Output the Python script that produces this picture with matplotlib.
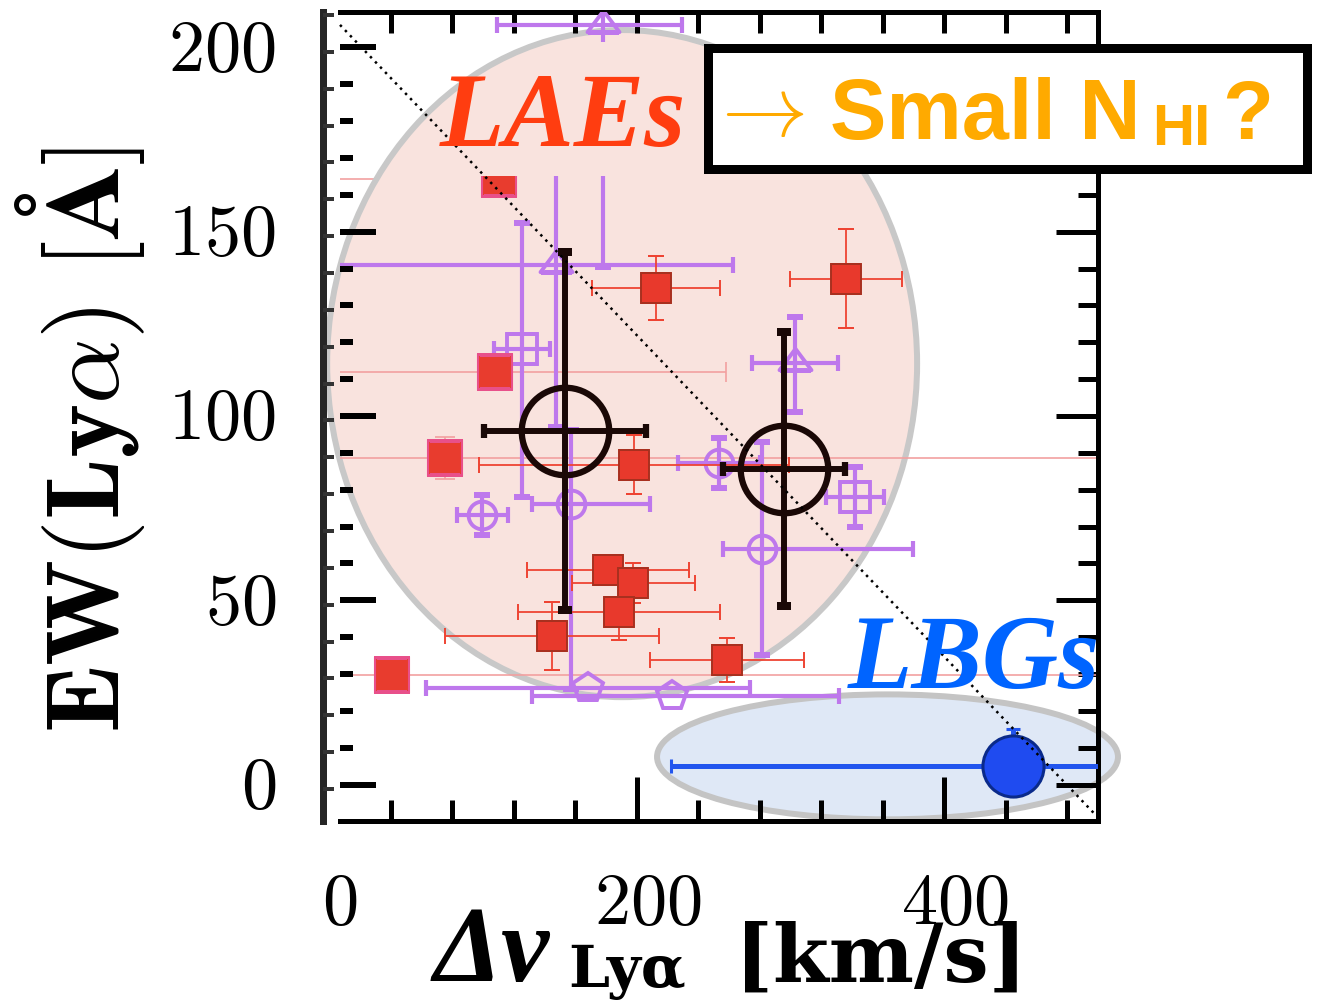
import numpy as np
import matplotlib
matplotlib.use('Agg')
import matplotlib.pyplot as plt
from matplotlib.patches import Ellipse, Rectangle, PathPatch
from matplotlib.path import Path
from matplotlib.transforms import blended_transform_factory, offset_copy

# ---------------- data ----------------
# main LAE sample (red filled squares)
lae_dv = [205.5, 329.1, 191.2, 174.3, 190.6, 181.5, 137.9, 251.7]
lae_ew = [134.7, 137.2, 86.7, 58.2, 54.7, 46.8, 40.3, 33.8]
lae_dv_err = [41.6, 36.4, 100.8, 53.0, 40.0, 65.7, 69.6, 50.1]
lae_ew_err = [8.8, 13.4, 8.0, 3.0, 5.5, 7.6, 9.1, 5.9]

# literature LAEs with large velocity errors (red squares, faint error bars)
lit_dv = [100.8, 68.3, 33.8]
lit_ew = [111.9, 88.5, 29.7]
lit_dv_err = [150.3, 450.0, 470.0]
lit_ew_err = [0.0, 5.7, 0.0]
# the uppermost literature LAE (its error bar lies under the LAE region)
lit_top_dv = [103.4]
lit_top_ew = [164.3]
lit_top_dv_err = [136.0]

# purple comparison samples
tri_dv = [171.1, 140.5, 295.9]
tri_ew = [206.1, 141.0, 114.4]
tri_dv_lo = [69.0, 160.0, 28.0]
tri_dv_hi = [51.3, 115.1, 28.0]
tri_ew_lo = [65.7, 44.0, 13.3]
tri_ew_hi = [15.0, 40.0, 12.5]

sq_dv = [118.4, 335.0]
sq_ew = [118.2, 78.0]
sq_dv_err = [18.5, 18.9]
sq_ew_lo = [40.2, 8.1]
sq_ew_hi = [34.2, 8.2]

circ_dv = [92.4, 150.2, 246.5, 274.5]
circ_ew = [73.1, 76.1, 87.2, 63.9]
circ_dv_lo = [16.3, 25.3, 26.6, 25.4]
circ_dv_hi = [16.9, 51.4, 26.6, 98.2]
circ_ew_lo = [5.4, 50.1, 6.7, 28.7]
circ_ew_hi = [5.4, 20.0, 6.8, 29.0]

pent_dv = [161.3, 216.0]
pent_ew = [26.2, 24.0]
pent_dv_lo = [105.4, 91.0]
pent_dv_hi = [105.4, 108.6]

# stacked averages (black open circles)
avg_dv = [146.3, 288.8]
avg_ew = [95.9, 85.6]
avg_dv_err = [52.4, 39.7]
avg_ew_err = [48.5, 37.1]

# LBG average (blue)
lbg_dv = [437.7]
lbg_ew = [5.0]
lbg_dv_err = [222.4]
lbg_ew_lo = [0.0]
lbg_ew_hi = [10.0]

# dotted guide line
guide_dv = [0.0, 490.4]
guide_ew = [206.1, -7.8]

# shaded regions: (center dv, center ew, width, height)
lae_region = (183.5, 114.2, 383.7, 181.0)
lbg_region = (356.1, 7.5, 299.8, 33.9)

x_ticklabels = ['0', '200', '400']
x_ticklabel_pos = [0, 200, 400]
y_ticklabels = ['0', '50', '100', '150', '200']
y_ticklabel_pos = [0, 50, 100, 150, 200]

# ---------------- figure ----------------
W, H = 1317, 1005
PX = 0.72  # points per pixel at dpi 100
fig = plt.figure(figsize=(W / 100, H / 100), dpi=100)


def fx(px):
    return px / W


def fy(py):
    return 1 - py / H


AX_L, AX_R, AX_T, AX_B = 323, 1098, 12, 821
XLIM = (-11.06, 493.0)
YLIM = (-9.9, 209.6)

ax = fig.add_axes([fx(AX_L), fy(AX_B), (AX_R - AX_L) / W, (AX_B - AX_T) / H])
ax.set_xlim(*XLIM)
ax.set_ylim(*YLIM)

ax.set_xticks([193, 393])
ax.set_xticks(np.arange(33, 480, 40), minor=True)
ax.xaxis.remove_overlapping_locs = False
ax.set_yticks(np.arange(0, 201, 50))
ax.set_yticks(np.arange(0, 210, 10), minor=True)
ax.yaxis.remove_overlapping_locs = False
ax.tick_params(axis='x', which='major', direction='in', length=44 * PX, width=5 * PX,
               bottom=True, top=False, labelbottom=False)
ax.tick_params(axis='x', which='minor', direction='in', length=21 * PX, width=5 * PX,
               bottom=True, top=True)
ax.tick_params(axis='y', which='major', direction='in', length=42 * PX, width=5 * PX,
               left=False, right=True, labelleft=False)
ax.tick_params(axis='y', which='minor', direction='in', length=20 * PX, width=5 * PX,
               left=False, right=True)
for s in ['top', 'bottom', 'right']:
    ax.spines[s].set_linewidth(5 * PX)
    ax.spines[s].set_color('black')
ax.spines['top'].set_bounds(0, XLIM[1])
ax.spines['bottom'].set_bounds(0, XLIM[1])
ax.spines['left'].set_linewidth(7 * PX)
ax.spines['left'].set_color('#262626')

# outer short ticks on the left bar
axL = fig.add_axes([fx(AX_L), fy(AX_B), (AX_R - AX_L) / W, (AX_B - AX_T) / H],
                   frameon=False, label='outer')
axL.set_xlim(*XLIM)
axL.set_ylim(*YLIM)
axL.set_xticks([])
axL.set_yticks(np.arange(-1.2, 210, 10))
axL.tick_params(axis='y', direction='in', length=11 * PX, width=4 * PX, color='#333333',
                labelleft=False)

# inner ticks
axI = fig.add_axes([fx(340), fy(AX_B), (AX_R - 340) / W, (AX_B - AX_T) / H],
                   frameon=False, label='inner')
axI.set_ylim(*YLIM)
axI.set_xticks([])
axI.set_yticks(np.arange(0, 201, 50))
axI.set_yticks(np.arange(0, 210, 10), minor=True)
axI.tick_params(axis='y', which='major', direction='in', length=36 * PX, width=6 * PX,
                labelleft=False)
axI.tick_params(axis='y', which='minor', direction='in', length=13 * PX, width=6 * PX)


# clip region for the data (upper band of the inner panel is hidden)
def rect_path(x0, x1, y0, y1):
    return Path([(x0, y0), (x1, y0), (x1, y1), (x0, y1), (x0, y0)],
                [Path.MOVETO, Path.LINETO, Path.LINETO, Path.LINETO, Path.CLOSEPOLY])


clip_patch = PathPatch(Path.make_compound_path(rect_path(0, 560, -60, 165.1),
                                               rect_path(0, 560, 201.5, 260)),
                       transform=ax.transData)


def clip(obj):
    if hasattr(obj, 'lines'):
        line, caps, bars = obj.lines
        arts = list(caps) + list(bars) + ([line] if line is not None else [])
    else:
        arts = obj
    for a in arts:
        a.set_clip_path(clip_patch)


# regions
ax.add_patch(Ellipse(lae_region[:2], lae_region[2], lae_region[3], facecolor='#F9E3DE',
                     edgecolor='#C8C8C8', lw=6 * PX, zorder=1))
ax.add_patch(Ellipse(lbg_region[:2], lbg_region[2], lbg_region[3], facecolor='#DFE8F6',
                     edgecolor='#C4C4C4', lw=6 * PX, zorder=1, clip_on=False))

# faint error bars of literature LAEs
faint_kw = dict(fmt='none', ecolor='#F2A0A0', elinewidth=1.4, capsize=7, capthick=1.4,
                alpha=0.85)
clip(ax.errorbar(lit_top_dv, lit_top_ew, xerr=lit_top_dv_err, zorder=0.9, **faint_kw))
clip(ax.errorbar(lit_dv, lit_ew, xerr=lit_dv_err, yerr=lit_ew_err, zorder=2, **faint_kw))

PURPLE = '#BE78EC'
tri_marker = [(0, 1.1), (-1.2, -0.5), (1.2, -0.5), (0, 1.1)]
eb_kw = dict(fmt='none', ecolor=PURPLE, elinewidth=3, capsize=5.5, capthick=3, zorder=3)
mk_kw = dict(ls='none', mfc='none', mec=PURPLE, mew=2.8, zorder=3)

clip(ax.errorbar(tri_dv, tri_ew, xerr=[tri_dv_lo, tri_dv_hi], yerr=[tri_ew_lo, tri_ew_hi], **eb_kw))
clip(ax.plot(tri_dv, tri_ew, marker=tri_marker, ms=23, **mk_kw))
clip(ax.errorbar(sq_dv, sq_ew, xerr=sq_dv_err, yerr=[sq_ew_lo, sq_ew_hi], **eb_kw))
clip(ax.plot(sq_dv, sq_ew, marker='s', ms=21, **mk_kw))
clip(ax.errorbar(circ_dv, circ_ew, xerr=[circ_dv_lo, circ_dv_hi], yerr=[circ_ew_lo, circ_ew_hi], **eb_kw))
clip(ax.plot(circ_dv, circ_ew, marker='o', ms=20, **mk_kw))
clip(ax.errorbar(pent_dv, pent_ew, xerr=[pent_dv_lo, pent_dv_hi], **eb_kw))
clip(ax.plot(pent_dv, pent_ew, marker='p', ms=22, **mk_kw))

# red squares
clip(ax.errorbar(lae_dv, lae_ew, xerr=lae_dv_err, yerr=lae_ew_err, fmt='s', ms=22.3,
                 mfc='#E8392C', mec='#A8301F', mew=1.4, ecolor='#EE4433', elinewidth=1.3,
                 capsize=6, capthick=1.3, zorder=4))
clip(ax.plot(lit_dv + lit_top_dv, lit_ew + lit_top_ew, 's', ls='none', ms=24.5,
             mfc='#E83C2E', mec='#E8508A', mew=1.5, zorder=4.5))

# averages
clip(ax.errorbar(avg_dv, avg_ew, xerr=avg_dv_err, yerr=avg_ew_err, fmt='o', ms=63,
                 mfc='none', mec='#1A0806', mew=4.5, ecolor='#1A0806', elinewidth=4.3,
                 capsize=4.7, capthick=4.5, zorder=5))

# LBG
ax.errorbar(lbg_dv, lbg_ew, xerr=lbg_dv_err, yerr=[lbg_ew_lo, lbg_ew_hi], fmt='o', ms=44,
            mfc='#1F4BF0', mec='#0A2A8A', mew=2.2, ecolor='#2255EE', elinewidth=3.6,
            capsize=5, capthick=3.6, zorder=6)

# guide line
ax.plot(guide_dv, guide_ew, color='black', lw=1.8, ls=(0, (1, 1.9)), zorder=8)

# tick labels
ty = offset_copy(blended_transform_factory(fig.transFigure, ax.transData), fig=fig,
                 x=0, y=-4, units='dots')
for v, s in zip(y_ticklabel_pos, y_ticklabels):
    ax.text(fx(276), v, '$' + s + '$', transform=ty, ha='right', va='center',
            math_fontfamily='cm', fontsize=52, clip_on=False)
tx = blended_transform_factory(ax.transData, fig.transFigure)
for v, s in zip(x_ticklabel_pos, x_ticklabels):
    ax.text(v, fy(870), '$' + s + '$', transform=tx, ha='center', va='top',
            math_fontfamily='cm', fontsize=52, clip_on=False)

# axis labels
fig.text(fx(80), fy(440), r'$\mathbf{EW(Ly}\alpha\mathbf{)\ [\AA]}$', rotation=90,
         ha='center', va='center', math_fontfamily='cm', fontsize=74)
fig.text(fx(434), fy(981), 'Δv', fontfamily='Liberation Serif', fontstyle='italic',
         fontweight='bold', fontsize=78, ha='left', va='baseline')
fig.text(fx(568), fy(987), 'Lyα', fontfamily='DejaVu Serif', fontweight='bold',
         fontsize=42, ha='left', va='baseline')
fig.text(fx(881), fy(982), '[km/s]', fontfamily='DejaVu Serif', fontweight='bold',
         fontsize=58, ha='center', va='baseline')

# annotations
fig.text(fx(440), fy(146), 'LAEs', fontfamily='Liberation Serif', fontstyle='italic',
         fontweight='bold', fontsize=76, color='#FF3D10', ha='left', va='baseline')
fig.text(fx(848), fy(688), 'LBGs', fontfamily='Liberation Serif', fontstyle='italic',
         fontweight='bold', fontsize=76, color='#0064FF', ha='left', va='baseline')

box = Rectangle((fx(707.5), fy(168.5)), (1306.5 - 707.5) / W, (168.5 - 47.5) / H,
                transform=fig.transFigure, facecolor='white', edgecolor='black',
                lw=9 * PX, joinstyle='miter', zorder=10)
fig.add_artist(box)
ORANGE = '#FFAA00'
fig.text(fx(706), fy(136), r'$\rightarrow$', math_fontfamily='cm', fontsize=62,
         color=ORANGE, ha='left', va='baseline', zorder=11)
fig.text(fx(830), fy(139), 'Small N', fontfamily='Liberation Sans', fontweight='bold',
         fontsize=61, color=ORANGE, ha='left', va='baseline', zorder=11)
fig.text(fx(1152), fy(145), 'HI', fontfamily='Liberation Sans', fontweight='bold',
         fontsize=42, color=ORANGE, ha='left', va='baseline', zorder=11)
fig.text(fx(1222), fy(139), '?', fontfamily='Liberation Sans', fontweight='bold',
         fontsize=60, color=ORANGE, ha='left', va='baseline', zorder=11)

fig.savefig('out.png', dpi=100)
